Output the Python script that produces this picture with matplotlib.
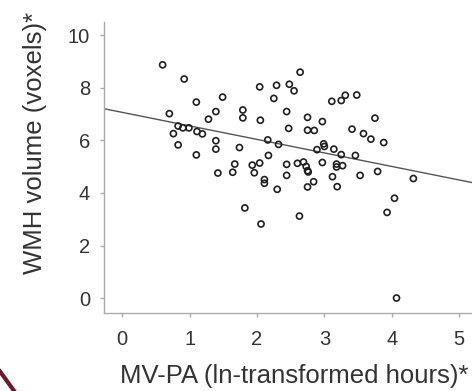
import numpy as np
import matplotlib
matplotlib.use("Agg")
import matplotlib.pyplot as plt
from matplotlib.lines import Line2D

# MV-PA (ln-transformed hours) vs WMH volume
mvpa = [0.60, 0.92, 0.70, 1.10, 1.49, 1.39, 1.28, 0.83, 0.90, 0.99,
        1.11, 1.19, 0.76, 0.83, 1.39, 1.39, 1.10, 1.42, 1.64, 1.67,
        1.74, 2.64, 2.04, 2.29, 2.48, 2.55, 2.25, 3.11, 3.25, 3.31,
        3.48, 1.79, 1.79, 2.05, 2.44, 2.75, 2.97, 3.75, 2.47, 2.75,
        2.85, 3.41, 3.58, 3.69, 3.88, 2.16, 2.32, 2.89, 2.99, 3.00,
        3.14, 3.25, 3.46, 2.17, 1.93, 2.04, 1.96, 2.44, 2.60, 2.69,
        2.73, 2.75, 2.97, 3.18, 3.18, 3.27, 2.44, 2.11, 2.11, 2.30,
        2.75, 2.84, 3.12, 3.19, 3.53, 3.79, 4.32, 4.04, 1.82, 2.06,
        2.63, 3.93, 4.07, 2.76]
wmh = [8.88, 8.34, 7.02, 7.46, 7.65, 7.10, 6.81, 6.55, 6.48, 6.48,
       6.34, 6.25, 6.26, 5.83, 5.99, 5.67, 5.45, 4.76, 4.79, 5.10,
       5.73, 8.60, 8.04, 8.10, 8.14, 7.89, 7.60, 7.49, 7.52, 7.72,
       7.73, 7.16, 6.86, 6.77, 7.10, 6.88, 6.72, 6.85, 6.46, 6.39,
       6.38, 6.43, 6.26, 6.05, 5.92, 6.02, 5.85, 5.65, 5.87, 5.77,
       5.67, 5.46, 5.43, 5.43, 5.06, 5.14, 4.77, 5.09, 5.13, 5.18,
       5.01, 4.85, 5.16, 5.10, 4.99, 5.04, 4.67, 4.51, 4.37, 4.14,
       4.23, 4.43, 4.62, 4.24, 4.67, 4.82, 4.55, 3.80, 3.43, 2.82,
       3.12, 3.26, 0.00, 4.80]

# fitted line
fit_intercept = 7.07
fit_slope = -0.515

xticks = [0, 1, 2, 3, 4, 5]
yticks = [0, 2, 4, 6, 8, 10]

plt.rcParams['font.family'] = ['Liberation Sans', 'DejaVu Sans']

fig = plt.figure(figsize=(4.72, 3.91), dpi=100)
ax = fig.add_axes([0.2203, 0.1995, 0.7797, 0.7442])

ax.scatter(mvpa, wmh, s=19, facecolors='none', edgecolors='#1e1e1e',
           linewidths=1.2, zorder=3)

xlim = (-0.27, 5.19)
xs = np.array(xlim)
ax.plot(xs, fit_intercept + fit_slope * xs, color='#555555', lw=1.0, zorder=2)

ax.set_xlim(*xlim)
ax.set_ylim(-0.57, 10.51)
ax.set_xticks(xticks)
ax.set_yticks(yticks)

for s in ['top', 'right']:
    ax.spines[s].set_visible(False)
for s in ['left', 'bottom']:
    ax.spines[s].set_color('#aaaaaa')
    ax.spines[s].set_linewidth(1.0)
ax.tick_params(colors='#aaaaaa', length=3, width=1.0, labelsize=14.5,
               labelcolor='#333333')
ax.tick_params(axis='y', pad=7)
ax.tick_params(axis='x', pad=9)

fig.text(0.6229, 0.038, 'MV-PA (ln-transformed hours)*', ha='center',
         va='center', fontsize=18.5, color='#333333')
fig.text(0.074, 0.634, 'WMH volume (voxels)*', ha='center', va='center',
         rotation=90, fontsize=18.5, color='#333333')

# maroon corner stroke
fig.add_artist(Line2D([0.0, 0.03], [0.05, 0.0], transform=fig.transFigure,
                      color='#6b1a2e', lw=3))

fig.savefig('out.png', dpi=100)
